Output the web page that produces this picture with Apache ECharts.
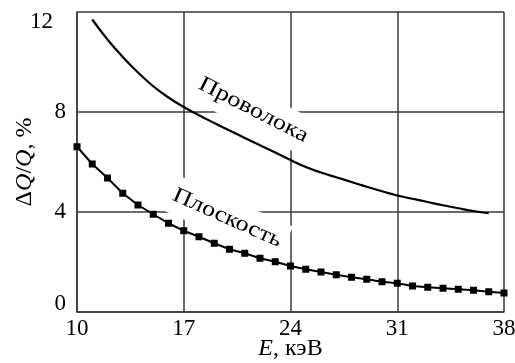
<!DOCTYPE html>
<html><head><meta charset="utf-8">
<script src="https://cdn.jsdelivr.net/npm/echarts@6/dist/echarts.min.js"></script>
<style>html,body{margin:0;padding:0;background:#fff}#c{width:515px;height:363px}</style>
</head><body><div id="c"></div>
<script>
// Plane detector ("Плоскость") — with square markers
const planeE = [10,11,12,13,14,15,16,17,18,19,20,21,22,23,24,25,26,27,28,29,30,31,32,33,34,35,36,37,38];
const planeVal = [6.61,5.92,5.36,4.75,4.28,3.91,3.55,3.25,3.01,2.75,2.51,2.35,2.15,2.01,1.84,1.71,1.60,1.49,1.39,1.31,1.21,1.15,1.04,0.99,0.95,0.91,0.87,0.81,0.76];
// Wire detector ("Проволока") — smooth line
const wireE = [11,12,13,14,15,16,17,18,19,20,21,22,23,24,25,26,27,28,29,30,31,32,33,34,35,36,37];
const wireVal = [11.7,10.9,10.2,9.58,9.03,8.58,8.2,7.87,7.56,7.26,6.96,6.67,6.38,6.08,5.8,5.58,5.39,5.2,5.01,4.83,4.66,4.53,4.4,4.27,4.15,4.04,3.95];
// Axis ticks
const xTicks = [10,17,24,31,38];
const yTicks = [0,4,8,12];
const curveLabels = [
  {text:'Проволока', at:[21.57, 8.08], angle:27},
  {text:'Плоскость', at:[19.85, 3.76], angle:24}
];

const F = '"Liberation Serif","Times New Roman",serif';
const GRID_C = '#3a3a3a';
const chart = echarts.init(document.getElementById('c'), null, {renderer:'canvas'});
const option = {
  animation:false,
  backgroundColor:'#fff',
  grid:{left:77,right:11,top:12,bottom:51,outerBoundsMode:'none',containLabel:false},
  xAxis:{
    type:'value', min:xTicks[0], max:xTicks[xTicks.length-1], interval:xTicks[1]-xTicks[0],
    axisLine:{lineStyle:{color:GRID_C,width:1.5}},
    axisTick:{show:false},
    splitLine:{show:true,lineStyle:{color:GRID_C,width:1.5}},
    axisLabel:{color:'#000',fontFamily:F,fontSize:23,margin:5},
    name:'{i|E}, кэВ', nameLocation:'middle', nameGap:25, nameMoveOverlap:false,
    nameTextStyle:{color:'#000',fontFamily:F,fontSize:24,
      rich:{i:{fontStyle:'italic',fontFamily:F,fontSize:24,color:'#000'}}}
  },
  yAxis:{
    type:'value', min:yTicks[0], max:yTicks[yTicks.length-1], interval:yTicks[1]-yTicks[0],
    axisLine:{show:true,lineStyle:{color:GRID_C,width:1.5}},
    axisTick:{show:false},
    splitLine:{show:true,lineStyle:{color:GRID_C,width:1.5}},
    axisLabel:{color:'#000',fontFamily:F,fontSize:23,margin:11,
      formatter:function(v){
        if(v===12) return '{t|12}';
        if(v===0) return '{b|0}';
        return '{n|'+v+'}';
      },
      rich:{
        t:{fontFamily:F,fontSize:23,color:'#000',padding:[20,13,0,0]},
        b:{fontFamily:F,fontSize:23,color:'#000',padding:[0,0,16,0]},
        n:{fontFamily:F,fontSize:23,color:'#000'}
      }
    },
    name:'Δ{i|Q}/{i|Q}, %', nameLocation:'middle', nameGap:40, nameRotate:90, nameMoveOverlap:false,
    nameTextStyle:{color:'#000',fontFamily:F,fontSize:24,
      rich:{i:{fontStyle:'italic',fontFamily:F,fontSize:24,color:'#000'}}}
  },
  series:[
    {type:'line', name:'Проволока', data:wireE.map((e,i)=>[e,wireVal[i]]),
     smooth:true, showSymbol:false, symbol:'none',
     lineStyle:{color:'#000',width:2.2}, z:3},
    {type:'line', name:'Плоскость', data:planeE.map((e,i)=>[e,planeVal[i]]),
     smooth:false, symbol:'rect', symbolSize:7,
     itemStyle:{color:'#000'}, lineStyle:{color:'#000',width:2}, z:3}
  ]
};
chart.setOption(option);
const g = curveLabels.map(l=>{
  const p = chart.convertToPixel({gridIndex:0}, l.at);
  return {type:'text', x:p[0], y:p[1], rotation:-l.angle*Math.PI/180, scaleX:1.19, z:1,
    style:{text:l.text, font:'22px '+F, fill:'#000', align:'center', verticalAlign:'middle',
      backgroundColor:'#fff', padding:[8,4]}};
});
chart.setOption({graphic:g});
</script>
</body></html>
